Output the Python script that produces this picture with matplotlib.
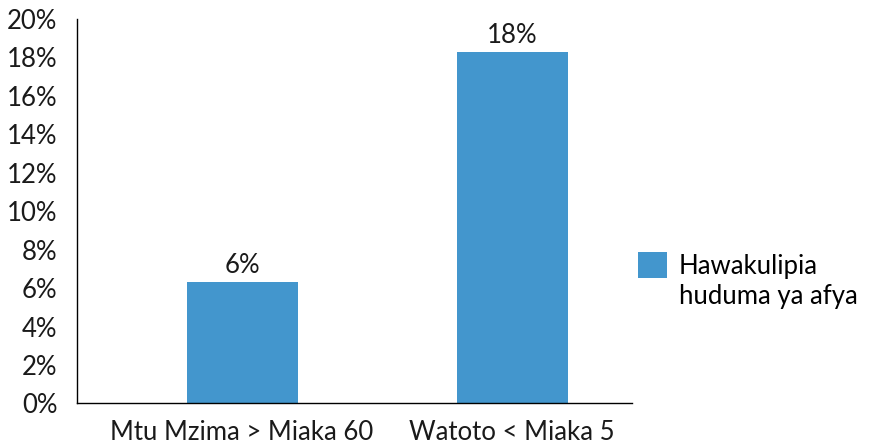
import matplotlib
matplotlib.use("Agg")
import matplotlib.pyplot as plt
from matplotlib.patches import Patch
from matplotlib.ticker import FuncFormatter

matplotlib.rcParams['font.family'] = ['Lato', 'DejaVu Sans']
matplotlib.rcParams['font.size'] = 18.5

categories = ["Mtu Mzima > Miaka 60", "Watoto < Miaka 5"]
values = [6.3, 18.3]
bar_labels = ["6%", "18%"]
series_name = ["Hawakulipia", "huduma ya afya"]
y_ticks = [0, 2, 4, 6, 8, 10, 12, 14, 16, 18, 20]

bar_clr = "#4396CD"


def main():
    fig = plt.figure(figsize=(8.72, 4.46), dpi=100)
    ax = fig.add_axes([0.0883, 0.0953, 0.7248 - 0.0883, 0.9574 - 0.0953])

    xs = list(range(len(categories)))
    bars = ax.bar(xs, values, width=0.411, color=bar_clr)

    for bar, lbl in zip(bars, bar_labels):
        ax.annotate(lbl, (bar.get_x() + bar.get_width() / 2, bar.get_height()),
                    xytext=(0, 3), textcoords="offset points",
                    ha="center", va="bottom", color="#1a1a1a")

    ax.set_xlim(-0.611, 1.444)
    ax.set_ylim(0, 20)
    ax.set_yticks(y_ticks)
    ax.yaxis.set_major_formatter(FuncFormatter(lambda v, p: f"{v:.0f}%"))
    ax.set_xticks(xs)
    ax.set_xticklabels(categories)
    ax.tick_params(axis="both", length=0, colors="#1a1a1a")
    ax.tick_params(axis="x", pad=12)
    ax.tick_params(axis="y", pad=14)

    for side in ["top", "right"]:
        ax.spines[side].set_visible(False)
    for side in ["left", "bottom"]:
        ax.spines[side].set_color("#000000")
        ax.spines[side].set_linewidth(1.0)

    # second line of the series name goes in as a handle-less entry
    handles = [Patch(facecolor=bar_clr), Patch(facecolor="none", edgecolor="none")]
    fig.legend(handles, series_name, loc="upper left", bbox_to_anchor=(0.708, 0.48),
               frameon=False, handlelength=1.13, handleheight=1.13,
               handletextpad=0.45, labelspacing=0.15, borderpad=0.3)

    fig.savefig("out.png", dpi=100)


if __name__ == '__main__':
    main()
